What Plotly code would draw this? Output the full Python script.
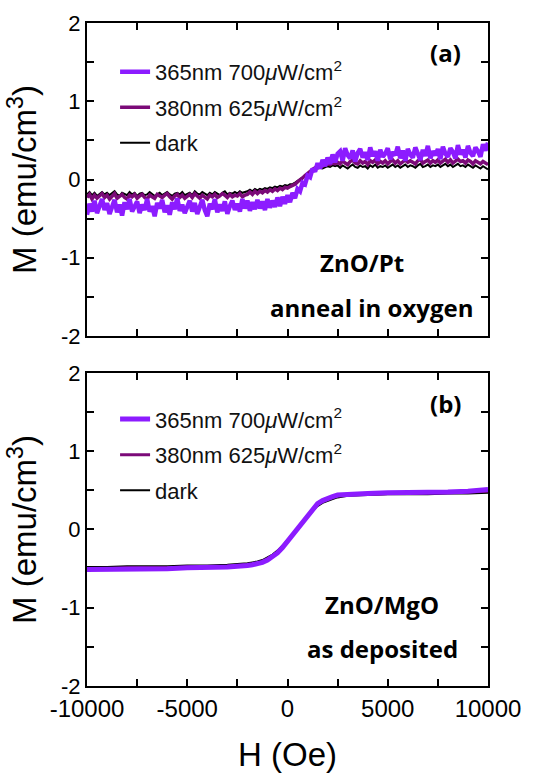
import plotly.graph_objects as go

# ---------------- data ----------------
H_A = [-10000, -9875, -9750, -9625, -9500, -9375, -9250, -9125, -9000, -8875,
       -8750, -8625, -8500, -8375, -8250, -8125, -8000, -7875, -7750, -7625,
       -7500, -7375, -7250, -7125, -7000, -6875, -6750, -6625, -6500, -6375,
       -6250, -6125, -6000, -5875, -5750, -5625, -5500, -5375, -5250, -5125,
       -5000, -4875, -4750, -4625, -4500, -4375, -4250, -4125, -4000, -3875,
       -3750, -3625, -3500, -3375, -3250, -3125, -3000, -2875, -2750, -2625,
       -2500, -2375, -2250, -2125, -2000, -1875, -1750, -1625, -1500, -1375,
       -1250, -1125, -1000, -875, -750, -625, -500, -375, -250, -125,
       0, 125, 250, 375, 500, 625, 750, 875, 1000, 1125,
       1250, 1375, 1500, 1625, 1750, 1875, 2000, 2125, 2250, 2375,
       2500, 2625, 2750, 2875, 3000, 3125, 3250, 3375, 3500, 3625,
       3750, 3875, 4000, 4125, 4250, 4375, 4500, 4625, 4750, 4875,
       5000, 5125, 5250, 5375, 5500, 5625, 5750, 5875, 6000, 6125,
       6250, 6375, 6500, 6625, 6750, 6875, 7000, 7125, 7250, 7375,
       7500, 7625, 7750, 7875, 8000, 8125, 8250, 8375, 8500, 8625,
       8750, 8875, 9000, 9125, 9250, 9375, 9500, 9625, 9750, 9875,
       10000]

M_A_DARK = [-0.19, -0.16, -0.20, -0.17, -0.21, -0.18, -0.16, -0.19, -0.17, -0.20,
            -0.18, -0.15, -0.19, -0.21, -0.17, -0.18, -0.20, -0.16, -0.19, -0.17,
            -0.21, -0.18, -0.17, -0.20, -0.19, -0.16, -0.18, -0.21, -0.19, -0.17,
            -0.20, -0.18, -0.16, -0.19, -0.21, -0.18, -0.17, -0.19, -0.16, -0.20,
            -0.18, -0.17, -0.20, -0.15, -0.18, -0.19, -0.16, -0.18, -0.20, -0.17,
            -0.19, -0.16, -0.18, -0.20, -0.17, -0.15, -0.19, -0.17, -0.18, -0.16,
            -0.18, -0.15, -0.17, -0.16, -0.15, -0.13, -0.15, -0.12, -0.14, -0.12,
            -0.13, -0.11, -0.12, -0.10, -0.11, -0.09, -0.10, -0.08, -0.09, -0.07,
            -0.08, -0.06, -0.06, -0.04, -0.02, 0.00, 0.02, 0.05, 0.07, 0.09,
            0.12, 0.13, 0.14, 0.15, 0.14, 0.16, 0.17, 0.16, 0.18, 0.17,
            0.18, 0.15, 0.18, 0.16, 0.14, 0.17, 0.19, 0.16, 0.15, 0.18,
            0.16, 0.17, 0.14, 0.18, 0.16, 0.19, 0.15, 0.17, 0.16, 0.18,
            0.15, 0.17, 0.19, 0.16, 0.18, 0.15, 0.17, 0.19, 0.16, 0.18,
            0.17, 0.15, 0.18, 0.20, 0.16, 0.17, 0.19, 0.16, 0.18, 0.17,
            0.19, 0.16, 0.18, 0.20, 0.17, 0.19, 0.16, 0.18, 0.20, 0.17,
            0.18, 0.16, 0.19, 0.17, 0.15, 0.18, 0.16, 0.14, 0.17, 0.15,
            0.13]

M_A_380 = [-0.23, -0.19, -0.25, -0.20, -0.24, -0.21, -0.18, -0.23, -0.20, -0.25,
           -0.21, -0.18, -0.24, -0.22, -0.19, -0.23, -0.25, -0.20, -0.22, -0.19,
           -0.24, -0.21, -0.19, -0.23, -0.25, -0.20, -0.22, -0.24, -0.19, -0.21,
           -0.23, -0.20, -0.18, -0.22, -0.25, -0.21, -0.19, -0.23, -0.20, -0.24,
           -0.22, -0.19, -0.23, -0.18, -0.21, -0.24, -0.20, -0.22, -0.25, -0.20,
           -0.22, -0.19, -0.23, -0.21, -0.18, -0.20, -0.23, -0.19, -0.22, -0.20,
           -0.21, -0.18, -0.22, -0.20, -0.19, -0.16, -0.19, -0.15, -0.18, -0.15,
           -0.17, -0.14, -0.16, -0.13, -0.15, -0.12, -0.14, -0.11, -0.13, -0.10,
           -0.11, -0.09, -0.08, -0.06, -0.03, -0.01, 0.02, 0.05, 0.08, 0.10,
           0.13, 0.15, 0.16, 0.18, 0.17, 0.19, 0.20, 0.19, 0.21, 0.20,
           0.22, 0.20, 0.24, 0.21, 0.19, 0.23, 0.25, 0.21, 0.20, 0.24,
           0.21, 0.23, 0.19, 0.24, 0.22, 0.25, 0.20, 0.23, 0.21, 0.24,
           0.20, 0.23, 0.25, 0.21, 0.24, 0.20, 0.23, 0.25, 0.22, 0.24,
           0.22, 0.20, 0.24, 0.26, 0.21, 0.23, 0.25, 0.21, 0.24, 0.22,
           0.25, 0.21, 0.24, 0.26, 0.22, 0.25, 0.21, 0.24, 0.26, 0.23,
           0.24, 0.21, 0.25, 0.23, 0.20, 0.24, 0.22, 0.20, 0.23, 0.21,
           0.19]

M_A_365 = [-0.45, -0.31, -0.41, -0.27, -0.43, -0.33, -0.25, -0.39, -0.30, -0.44,
           -0.36, -0.26, -0.42, -0.32, -0.46, -0.29, -0.38, -0.25, -0.41, -0.34,
           -0.28, -0.43, -0.32, -0.39, -0.25, -0.41, -0.34, -0.47, -0.30, -0.37,
           -0.26, -0.42, -0.33, -0.45, -0.29, -0.38, -0.24, -0.40, -0.32, -0.43,
           -0.35, -0.27, -0.41, -0.30, -0.44, -0.33, -0.26, -0.39, -0.47, -0.31,
           -0.38, -0.25, -0.42, -0.32, -0.40, -0.28, -0.44, -0.34, -0.27, -0.39,
           -0.31, -0.41, -0.25, -0.37, -0.27, -0.40, -0.29, -0.38, -0.26, -0.37,
           -0.28, -0.39, -0.25, -0.36, -0.27, -0.35, -0.23, -0.34, -0.22, -0.31,
           -0.20, -0.29, -0.17, -0.24, -0.12, -0.15, -0.04, -0.06, 0.05, 0.03,
           0.14, 0.10, 0.21, 0.14, 0.25, 0.17, 0.28, 0.20, 0.32, 0.22,
           0.33, 0.36, 0.24, 0.40, 0.31, 0.27, 0.37, 0.23, 0.34, 0.39,
           0.28, 0.35, 0.25, 0.41, 0.30, 0.36, 0.24, 0.38, 0.29, 0.33,
           0.40, 0.26, 0.35, 0.31, 0.42, 0.27, 0.37, 0.24, 0.39, 0.32,
           0.28, 0.41, 0.33, 0.25, 0.38, 0.30, 0.43, 0.27, 0.36, 0.31,
           0.39, 0.26, 0.42, 0.33, 0.29, 0.40, 0.35, 0.27, 0.44, 0.32,
           0.38, 0.28, 0.43, 0.34, 0.30, 0.41, 0.36, 0.29, 0.45, 0.37,
           0.47]

H_B = [-10000, -9000, -8000, -7000, -6000, -5000, -4000, -3000,
       -2500, -2250, -2000, -1750, -1500, -1250, -1000, -750, -500, -250,
       0, 250, 500, 750, 1000, 1250, 1500, 1750, 2000, 2250, 2500,
       3000, 4000, 5000, 6000, 7000, 8000, 9000, 10000]

M_B_DARK = [-0.48, -0.48, -0.47, -0.47, -0.47, -0.46, -0.46, -0.45,
            -0.44, -0.44, -0.43, -0.42, -0.41, -0.39, -0.36, -0.32, -0.27, -0.21,
            -0.14, -0.06, 0.01, 0.08, 0.16, 0.24, 0.30, 0.34, 0.37, 0.39, 0.41,
            0.43, 0.44, 0.45, 0.45, 0.45, 0.46, 0.46, 0.47]

M_B_380 = [-0.50, -0.50, -0.49, -0.49, -0.49, -0.48, -0.48, -0.47,
           -0.46, -0.46, -0.45, -0.44, -0.43, -0.41, -0.38, -0.34, -0.29, -0.22,
           -0.15, -0.07, 0.01, 0.09, 0.17, 0.25, 0.32, 0.36, 0.39, 0.41, 0.43,
           0.44, 0.45, 0.46, 0.46, 0.47, 0.47, 0.48, 0.49]

M_B_365 = [-0.51, -0.51, -0.50, -0.50, -0.50, -0.49, -0.49, -0.48,
           -0.47, -0.47, -0.46, -0.45, -0.44, -0.42, -0.39, -0.35, -0.30, -0.23,
           -0.15, -0.07, 0.01, 0.09, 0.18, 0.26, 0.33, 0.37, 0.40, 0.42, 0.44,
           0.45, 0.46, 0.47, 0.47, 0.48, 0.48, 0.49, 0.51]

SERIES_NAMES = ["365nm 700<i>μ</i>W/cm<sup>2</sup>",
                "380nm 625<i>μ</i>W/cm<sup>2</sup>",
                "dark"]

X_TICKVALS = [-10000, -7500, -5000, -2500, 0, 2500, 5000, 7500, 10000]
X_TICKTEXT = ["-10000", "", "-5000", "", "0", "", "5000", "", "10000"]
Y_TICKVALS = [-2, -1.5, -1, -0.5, 0, 0.5, 1, 1.5, 2]
Y_TICKTEXT = ["-2", "", "-1", "", "0", "", "1", "", "2"]

# ---------------- styling ----------------
C365 = "#8C1CFF"
C380 = "#7B0A78"
CDARK = "#000000"
TICKFONT = "Liberation Sans, Arial, sans-serif"
BOLDFONT = "Open Sans, Noto Sans, sans-serif"

fig = go.Figure()

panels = [
    ("x", "y", "legend", H_A, [M_A_365, M_A_380, M_A_DARK], [4.5, 3.5, 2]),
    ("x2", "y2", "legend2", H_B, [M_B_365, M_B_380, M_B_DARK], [5, 3, 2]),
]
colors = [C365, C380, CDARK]
zorders = [3, 2, 1]

for xa, ya, leg, H, Ms, widths in panels:
    for k in range(3):
        fig.add_trace(go.Scatter(
            x=H, y=Ms[k], mode="lines", name=SERIES_NAMES[k],
            line=dict(color=colors[k], width=widths[k]),
            xaxis=xa, yaxis=ya, legend=leg, legendgroup=f"{leg}{k}",
            zorder=zorders[k],
        ))

axis_common = dict(
    showline=True, linecolor="black", linewidth=2, mirror="allticks",
    ticks="inside", ticklen=7, tickwidth=2, tickcolor="black",
    showgrid=False, zeroline=False, automargin=False,
)

fig.update_layout(
    width=554, height=773,
    margin=dict(l=87, r=66, t=23, b=87),
    plot_bgcolor="white", paper_bgcolor="white",
    showlegend=True,
    xaxis=dict(domain=[0, 1], anchor="y", range=[-10000, 10000],
               tickvals=X_TICKVALS, ticktext=[""] * len(X_TICKVALS), **axis_common),
    yaxis=dict(domain=[0.5279, 1], anchor="x", range=[-2, 2],
               tickvals=Y_TICKVALS, ticktext=Y_TICKTEXT,
               tickfont=dict(family=TICKFONT, size=22, color="black"),
               title=dict(text="M (emu/cm<sup>3</sup>)", standoff=14,
                          font=dict(family=TICKFONT, size=33, color="black")),
               **axis_common),
    xaxis2=dict(domain=[0, 1], anchor="y2", range=[-10000, 10000],
                tickvals=X_TICKVALS, ticktext=X_TICKTEXT,
                tickfont=dict(family=TICKFONT, size=24, color="black"),
                title=dict(text="H (Oe)", standoff=40,
                           font=dict(family=TICKFONT, size=33, color="black")),
                **axis_common),
    yaxis2=dict(domain=[0, 0.4721], anchor="x2", range=[-2, 2],
                tickvals=Y_TICKVALS, ticktext=Y_TICKTEXT,
                tickfont=dict(family=TICKFONT, size=22, color="black"),
                title=dict(text="M (emu/cm<sup>3</sup>)", standoff=14,
                           font=dict(family=TICKFONT, size=33, color="black")),
                **axis_common),
    legend=dict(x=0.07, y=0.958, xanchor="left", yanchor="top",
                bgcolor="rgba(0,0,0,0)", tracegroupgap=4,
                font=dict(family=TICKFONT, size=22, color="#111")),
    legend2=dict(x=0.07, y=0.434, xanchor="left", yanchor="top",
                 bgcolor="rgba(0,0,0,0)", tracegroupgap=4,
                 font=dict(family=TICKFONT, size=22, color="#111")),
)

annots = [
    ("<b>(a)</b>", 0.893, 0.956),
    ("<b>ZnO/Pt</b>", 0.686, 0.6395),
    ("<b>anneal in oxygen</b>", 0.711, 0.5716),
    ("<b>(b)</b>", 0.893, 0.4268),
    ("<b>ZnO/MgO</b>", 0.736, 0.1222),
    ("<b>as deposited</b>", 0.738, 0.0573),
]
for text, ax_, ay_ in annots:
    fig.add_annotation(text=text, x=ax_, y=ay_, xref="paper", yref="paper",
                       showarrow=False, xanchor="center", yanchor="middle",
                       font=dict(family=BOLDFONT, size=24, color="black"))

fig.write_html("out.html")
